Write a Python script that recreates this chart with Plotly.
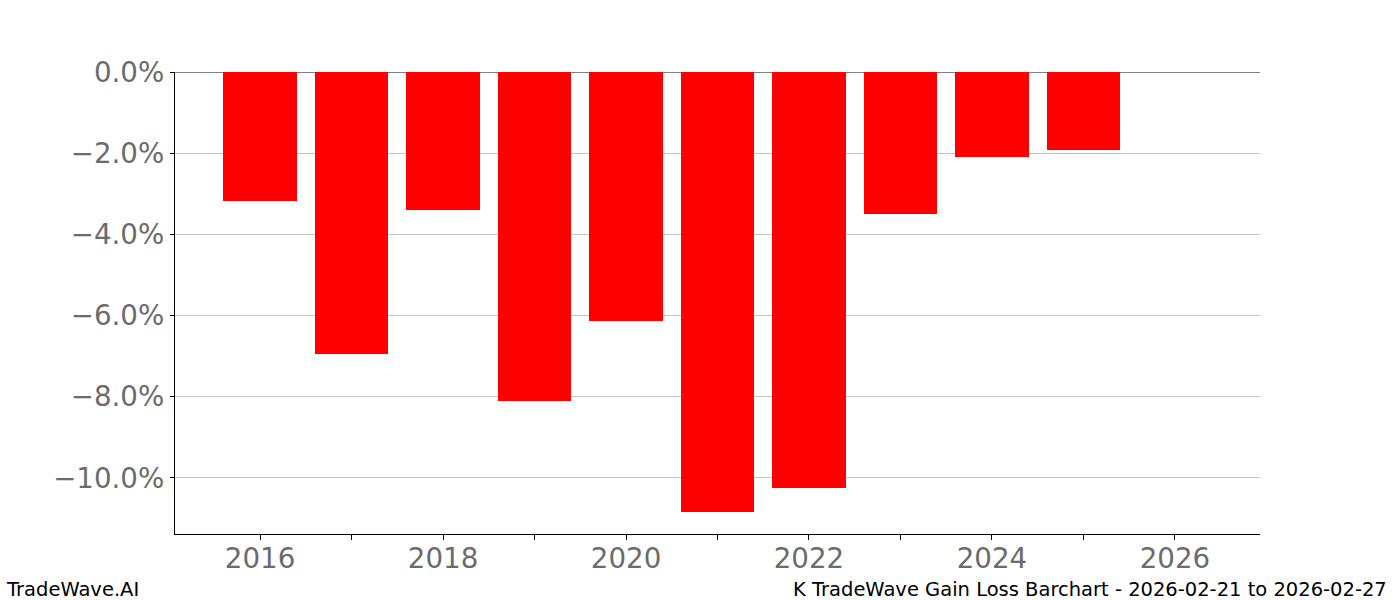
import plotly.graph_objects as go

years = [2016, 2017, 2018, 2019, 2020, 2021, 2022, 2023, 2024, 2025]
values = [-3.17, -6.95, -3.40, -8.10, -6.13, -10.84, -10.25, -3.50, -2.09, -1.92]
ytick_vals = [0, -2, -4, -6, -8, -10]
ytick_text = ["0.0%", "−2.0%", "−4.0%", "−6.0%", "−8.0%", "−10.0%"]
xtick_vals = [2016, 2018, 2020, 2022, 2024, 2026]
xtick_marks = [2016, 2017, 2018, 2019, 2020, 2021, 2022, 2023, 2024, 2025, 2026]
footer_left = "TradeWave.AI"
footer_right = "K TradeWave Gain Loss Barchart - 2026-02-21 to 2026-02-27"

fig = go.Figure()
fig.add_trace(go.Bar(x=years, y=values, width=0.8, marker=dict(color="#ff0000", line=dict(width=0)),
                     showlegend=False, hoverinfo="skip"))

tick_font = dict(family="DejaVu Sans", size=27.7, color="#6b6b6b")
fig.update_layout(
    width=1400, height=600,
    margin=dict(l=175, r=140, t=72, b=66),
    paper_bgcolor="white", plot_bgcolor="white",
    xaxis=dict(range=[2015.07, 2026.93], tickvals=xtick_vals, ticktext=[str(v) for v in xtick_vals],
               automargin=False,
               showgrid=False, zeroline=False, showline=True, linecolor="black", linewidth=1.3,
               ticks="", tickfont=tick_font,
               minor=dict(tickvals=xtick_marks, ticks="outside", ticklen=5,
                          tickwidth=1.2, tickcolor="black", showgrid=False)),
    yaxis=dict(range=[-11.38, 0], tickvals=ytick_vals, ticktext=ytick_text,
               automargin=False,
               showgrid=True, gridcolor="#c4c4c4", gridwidth=1,
               zeroline=True, zerolinecolor="#808080", zerolinewidth=1.3,
               showline=True, linecolor="black", linewidth=1.3,
               ticks="outside", ticklen=4, tickwidth=1.2, tickcolor="black", tickfont=tick_font),
    bargap=0,
)
fig.add_annotation(text=footer_left, xref="paper", yref="paper", x=-171/1085, y=-69/462,
                   xanchor="left", yanchor="bottom", showarrow=False,
                   font=dict(family="DejaVu Sans", size=19.5, color="black"))
fig.add_annotation(text=footer_right, xref="paper", yref="paper", x=(1389-175)/1085, y=-69/462,
                   xanchor="right", yanchor="bottom", showarrow=False,
                   font=dict(family="DejaVu Sans", size=19.5, color="black"))
fig.write_html("out.html", config={"displayModeBar": False},
               post_script="document.body.style.margin='0';")
